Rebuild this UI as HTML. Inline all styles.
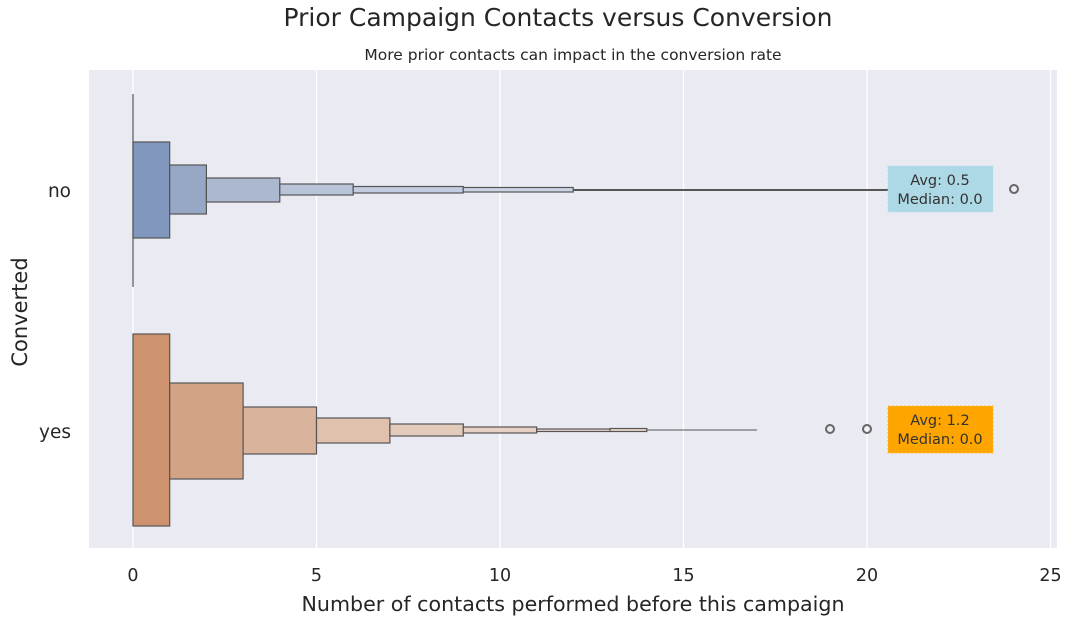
<!DOCTYPE html>
<html><head><meta charset="utf-8"><style>body{margin:0;background:#fff}svg{display:block;font-family:"DejaVu Sans","Liberation Sans",sans-serif}</style></head><body>
<svg width="1069" height="622" viewBox="0 0 1069 622">
<rect x="89" y="70" width="968" height="478" fill="#eaeaf2"/>
<g stroke="#fff" stroke-width="1.3">
<line x1="133" y1="70" x2="133" y2="548"/><line x1="316.5" y1="70" x2="316.5" y2="548"/><line x1="500" y1="70" x2="500" y2="548"/><line x1="683.5" y1="70" x2="683.5" y2="548"/><line x1="867" y1="70" x2="867" y2="548"/><line x1="1050.5" y1="70" x2="1050.5" y2="548"/>
</g>
<g stroke="#555" stroke-width="1.2">
<line x1="133" y1="94" x2="133" y2="287"/>
<line x1="573" y1="190" x2="888" y2="190" stroke-width="2"/>
<rect x="133" y="142" width="36.7" height="96" fill="#8197bd"/>
<rect x="169.7" y="165" width="36.7" height="49" fill="#97a8c6"/>
<rect x="206.4" y="178" width="73.4" height="24" fill="#abb8d0"/>
<rect x="279.8" y="184" width="73.4" height="11" fill="#b9c4d8"/>
<rect x="353.2" y="186.5" width="110" height="6.5" fill="#c3cce0"/>
<rect x="463.2" y="187.5" width="110" height="4.5" fill="#ccd3e4"/>
<line x1="647" y1="430" x2="757" y2="430" stroke-width="1"/>
<rect x="133" y="334" width="36.7" height="192" fill="#cd926e"/>
<rect x="169.7" y="383" width="73.4" height="96" fill="#d3a386"/>
<rect x="243.1" y="407" width="73.4" height="47" fill="#d9b39b"/>
<rect x="316.5" y="418" width="73.4" height="25" fill="#dfc1ae"/>
<rect x="389.9" y="424" width="73.4" height="12" fill="#e3cbbb"/>
<rect x="463.3" y="427" width="73.4" height="6" fill="#e6d1c4"/>
<rect x="536.7" y="429" width="73.4" height="2.5" fill="#e8d6cb"/>
<rect x="610.1" y="428.5" width="36.7" height="3" fill="#e8d6cb"/>
</g>
<g fill="none" stroke="#666" stroke-width="2">
<circle cx="1014" cy="189" r="4"/><circle cx="830" cy="429" r="4"/><circle cx="867" cy="429" r="4"/>
</g>
<rect x="888" y="166" width="105" height="46" fill="#add8e6" stroke="#b8e0ee" stroke-dasharray="2,2"/>
<rect x="888" y="406" width="105" height="47" fill="#ffa500" stroke="#ffb833" stroke-dasharray="2,2"/>
<g font-size="14.5" fill="#333" text-anchor="middle">
<text x="940" y="185">Avg: 0.5</text><text x="940" y="204">Median: 0.0</text>
<text x="940" y="425">Avg: 1.2</text><text x="940" y="444">Median: 0.0</text>
</g>
<g font-size="17.5" fill="#262626" text-anchor="middle">
<text x="133" y="581">0</text><text x="316.5" y="581">5</text><text x="500" y="581">10</text><text x="683.5" y="581">15</text><text x="867" y="581">20</text><text x="1050.5" y="581">25</text>
<text x="573" y="611" font-size="20.6">Number of contacts performed before this campaign</text>
<text x="558" y="26" font-size="25">Prior Campaign Contacts versus Conversion</text>
<text x="573" y="60" font-size="15.5">More prior contacts can impact in the conversion rate</text>
</g>
<g font-size="18.5" fill="#262626" text-anchor="end">
<text x="71" y="197">no</text><text x="71" y="438">yes</text>
</g>
<text transform="translate(27,312) rotate(-90)" font-size="21" fill="#262626" text-anchor="middle">Converted</text>
</svg>
</body></html>
